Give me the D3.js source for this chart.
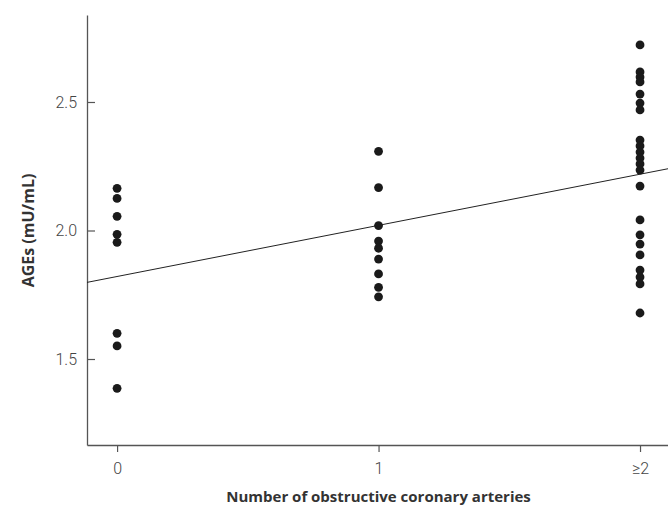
<!DOCTYPE html>
<html>
<head>
<meta charset="utf-8">
<script src="https://cdn.jsdelivr.net/npm/d3@7"></script>
<style>
  body { margin: 0; background: #fff; }
  svg { display: block; }
</style>
</head>
<body>
<script>
'use strict';

// categories on the x axis
const categories = [0, 1, 2];
const categoryLabels = ['0', '1', '\u22652'];
const yTicks = [1.5, 2.0, 2.5];

// AGEs per group (mU/mL)
const group0 = [2.164, 2.125, 2.055, 1.985, 1.954, 1.600, 1.551, 1.386];
const group1 = [2.308, 2.167, 2.019, 1.959, 1.931, 1.889, 1.831, 1.779, 1.742];
const group2 = [2.722, 2.617, 2.597, 2.578, 2.531, 2.496, 2.469, 2.352, 2.329,
    2.305, 2.282, 2.259, 2.235, 2.173, 2.041, 1.983, 1.947, 1.905, 1.846,
    1.819, 1.792, 1.679];

// fitted line
const fitIntercept = 1.821;
const fitSlope = 0.199;

const width = 668, height = 506;
const plot = {left: 87, right: 668, top: 15, bottom: 445};

const svg = d3.select('body')
    .append('svg')
    .attr('width', width)
    .attr('height', height);

const x = d3.scaleLinear()
    .domain([-0.115, 2.107])
    .range([plot.left, plot.right]);

const y = d3.scaleLinear()
    .domain([1.1654, 2.8385])
    .range([plot.bottom, plot.top]);

let points = [];
[group0, group1, group2].forEach(function(values, i) {
    values.forEach(v => points.push({cat: categories[i], value: v}));
});

// axes
const xAxis = d3.axisBottom(x)
    .tickValues(categories)
    .tickFormat((d, i) => categoryLabels[i])
    .tickSize(7)
    .tickSizeOuter(0)
    .tickPadding(11);

const yAxis = d3.axisLeft(y)
    .tickValues(yTicks)
    .tickFormat(d3.format('.1f'))
    .tickSize(-8)
    .tickSizeOuter(0)
    .tickPadding(10);

const gx = svg.append('g')
    .attr('transform', `translate(0,${plot.bottom})`)
    .call(xAxis);

const gy = svg.append('g')
    .attr('transform', `translate(${plot.left},0)`)
    .call(yAxis);

[gx, gy].forEach(g => {
    g.select('.domain').attr('stroke', '#555').attr('stroke-width', 1.3);
    g.selectAll('.tick line').attr('stroke', '#555').attr('stroke-width', 1.2);
    g.selectAll('.tick text')
        .attr('fill', '#444')
        .style('font-family', 'Roboto, "Open Sans", sans-serif')
        .style('font-weight', 300)
        .style('font-size', '16px');
});

// regression line
svg.append('line')
    .attr('x1', x(x.domain()[0]))
    .attr('y1', y(fitIntercept + fitSlope * x.domain()[0]))
    .attr('x2', x(x.domain()[1]))
    .attr('y2', y(fitIntercept + fitSlope * x.domain()[1]))
    .attr('stroke', '#222')
    .attr('stroke-width', 1);

// dots
svg.selectAll('circle')
    .data(points)
    .enter()
    .append('circle')
    .attr('cx', d => x(d.cat))
    .attr('cy', d => y(d.value))
    .attr('r', 4.4)
    .style('fill', '#1a1a1a');

// axis titles
svg.append('text')
    .attr('x', x(1))
    .attr('y', 502)
    .attr('text-anchor', 'middle')
    .style('font-family', '"Open Sans", sans-serif')
    .style('font-weight', 700)
    .style('font-size', '15px')
    .style('fill', '#333')
    .text('Number of obstructive coronary arteries');

svg.append('text')
    .attr('transform', `translate(34,${y(2.0)}) rotate(-90)`)
    .attr('text-anchor', 'middle')
    .style('font-family', '"Open Sans", sans-serif')
    .style('font-weight', 700)
    .style('font-size', '16px')
    .style('fill', '#333')
    .text('AGEs (mU/mL)');
</script>
</body>
</html>
